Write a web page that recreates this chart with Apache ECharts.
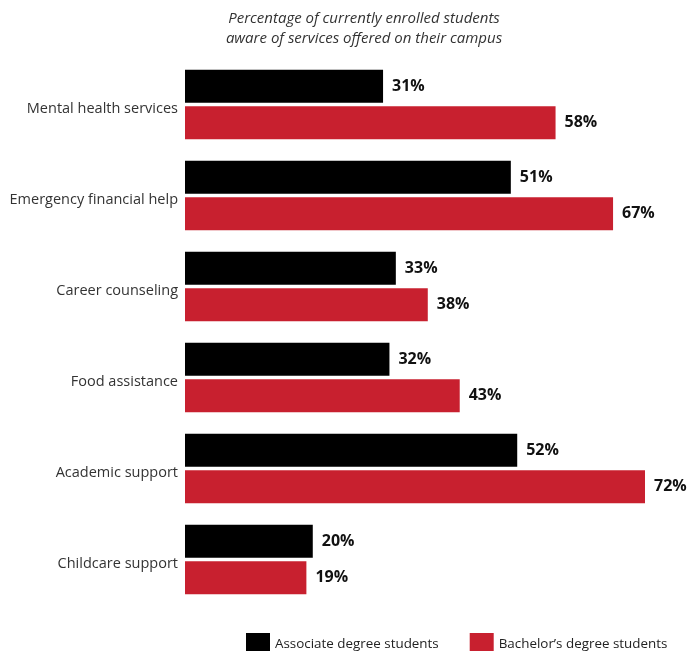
<!DOCTYPE html>
<html><head><meta charset="utf-8">
<script src="https://cdn.jsdelivr.net/npm/echarts@6/dist/echarts.min.js"></script>
<style>html,body{margin:0;padding:0;background:#fff}#c{width:690px;height:651px}</style>
</head><body><div id="c"></div>
<script>
const categories = ["Mental health services","Emergency financial help","Career counseling","Food assistance","Academic support","Childcare support"];
const associate = [31,51,33,32,52,20];
const bachelor = [58,67,38,43,72,19];
const seriesNames = ["Associate degree students","Bachelor\u2019s degree students"];
const titleText = "Percentage of currently enrolled students\naware of services offered on their campus";

const chart = echarts.init(document.getElementById('c'));
const font = "'Open Sans', sans-serif";
const lbl = {show:true, position:'right', distance:9, formatter:'{c}%', fontFamily:font, fontWeight:'bold', fontSize:16, color:'#111'};
chart.setOption({
  animation:false,
  title:{text:titleText, left:359, textAlign:'center', top:4, textStyle:{fontFamily:font, fontStyle:'italic', fontWeight:'normal', fontSize:15, color:'#333', lineHeight:20}},
  legend:{data:seriesNames, left:246, top:633, padding:0, itemWidth:24, itemHeight:22, itemGap:31, icon:'rect', textStyle:{fontFamily:font, fontSize:13.4, color:'#222'}},
  grid:{left:185, width:460, top:59, height:546},
  xAxis:{type:'value', min:0, max:72, show:false},
  yAxis:{type:'category', data:categories, inverse:true, axisLine:{show:false}, axisTick:{show:false},
    axisLabel:{margin:7, formatter: v => '{a|' + v + '}',
      rich:{a:{fontFamily:font, fontSize:14.5, color:'#333', padding:[9,0,0,0]}}}},
  series:[
    {name:seriesNames[0], type:'bar', data:associate, barWidth:33, barGap:'10%', itemStyle:{color:'#000'}, label:lbl},
    {name:seriesNames[1], type:'bar', data:bachelor, barWidth:33, itemStyle:{color:'#C8202F'}, label:lbl}
  ]
});
</script></body></html>
